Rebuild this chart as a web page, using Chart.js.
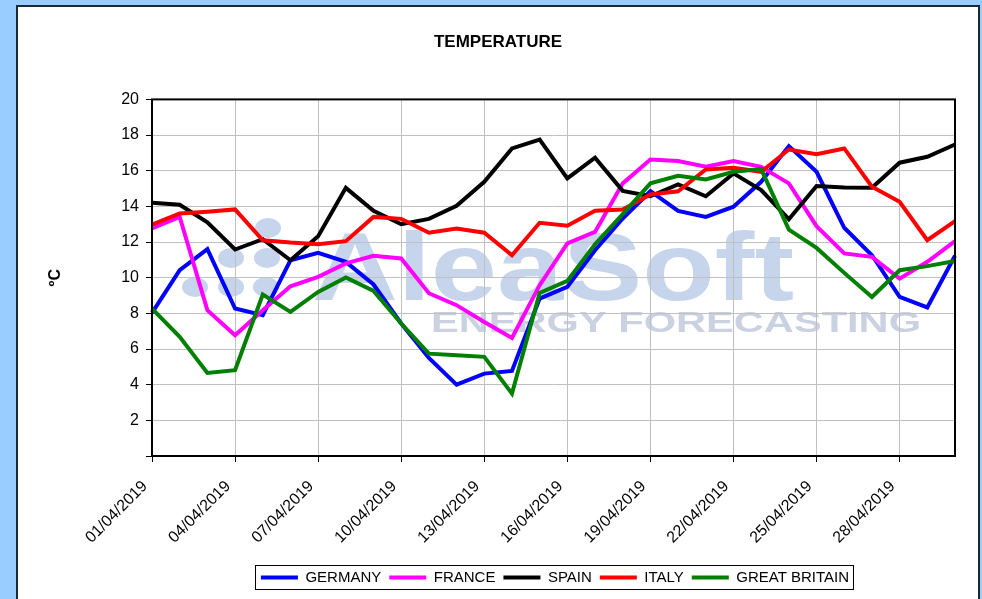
<!DOCTYPE html>
<html>
<head>
<meta charset="utf-8">
<title>Temperature</title>
<script src="https://cdn.jsdelivr.net/npm/chart.js@4.4.1/dist/chart.umd.min.js"></script>
<style>
  html, body { margin: 0; padding: 0; background: #99ccff; width: 982px; height: 599px; overflow: hidden; }
  #panel { position: absolute; left: 16px; top: 5px; width: 964px; height: 600px; box-sizing: border-box;
           border: 2px solid #1c2833; background: #fff; }
  #wrap { position: absolute; left: 0; top: 0; width: 960px; height: 592px; }
</style>
</head>
<body>
<div id="panel"><div id="wrap"><canvas id="grafico"></canvas></div></div>
<script>
var dias = [];
for (var d = 1; d <= 30; d++) {
  dias.push((d < 10 ? "0" + d : "" + d) + "/04/2019");
}

var paises = ["GERMANY", "FRANCE", "SPAIN", "ITALY", "GREAT BRITAIN"];
var cores = ["#0000ff", "#ff00ff", "#000000", "#ff0000", "#008000"];

var germany = [8.03, 10.42, 11.6, 8.27, 7.9, 10.98, 11.39, 10.89, 9.62, 7.43,
               5.5, 4.0, 4.62, 4.77, 8.83, 9.49, 11.54, 13.32, 14.85, 13.75,
               13.41, 13.98, 15.38, 17.38, 15.94, 12.8, 11.26, 8.92, 8.33, 11.23];
var france = [12.76, 13.41, 8.18, 6.77, 8.18, 9.52, 10.05, 10.8, 11.23, 11.08,
              9.13, 8.46, 7.52, 6.62, 9.58, 11.92, 12.57, 15.29, 16.63, 16.54,
              16.22, 16.54, 16.22, 15.29, 12.89, 11.36, 11.17, 9.95, 10.89, 12.05];
var spain = [14.2, 14.09, 13.1, 11.58, 12.16, 10.98, 12.33, 15.04, 13.75, 13.0,
             13.3, 14.03, 15.38, 17.25, 17.75, 15.57, 16.73, 14.87, 14.57, 15.23,
             14.57, 15.85, 14.91, 13.28, 15.14, 15.06, 15.04, 16.45, 16.78, 17.47];
var italy = [12.98, 13.6, 13.7, 13.83, 12.1, 11.97, 11.88, 12.05, 13.41, 13.3,
             12.52, 12.76, 12.52, 11.26, 13.08, 12.91, 13.75, 13.83, 14.67, 14.85,
             16.07, 16.16, 15.94, 17.19, 16.93, 17.25, 15.1, 14.26, 12.1, 13.17];
var britain = [8.27, 6.68, 4.66, 4.81, 9.06, 8.08, 9.2, 10.01, 9.26, 7.43,
               5.74, 5.65, 5.56, 3.5, 9.15, 9.82, 11.88, 13.56, 15.29, 15.72,
               15.51, 15.94, 16.09, 12.7, 11.67, 10.27, 8.92, 10.42, 10.65, 10.94];

var series = [germany, france, spain, italy, britain];

// logo de fundo (AleaSoft) desenhado antes da grelha
var marcaAgua = {
  id: 'marcaAgua',
  beforeDraw: function(chart) {
    var ctx = chart.ctx;
    ctx.save();
    ctx.fillStyle = "rgb(198,212,236)";
    var pontos = [[177, 280], [213, 280], [248, 280], [213, 251], [249, 251], [250, 221]];
    pontos.forEach(function(p) {
      ctx.beginPath();
      ctx.ellipse(p[0], p[1], 13, 10, 0, 0, Math.PI * 2);
      ctx.fill();
    });
    escreve(ctx, "AleaSoft", "bold 96px 'Liberation Sans', Arial, sans-serif", 294, 293, 482);
    ctx.fillStyle = "rgb(202,209,225)";
    escreve(ctx, "ENERGY FORECASTING", "bold 30px 'Liberation Sans', Arial, sans-serif", 413, 325, 490);
    ctx.restore();
  }
};

function escreve(ctx, txt, font, x, y, largura) {
  ctx.font = font;
  var w = ctx.measureText(txt).width;
  ctx.save();
  ctx.translate(x, y);
  ctx.scale(largura / w, 1);
  ctx.textBaseline = "alphabetic";
  ctx.fillText(txt, 0, 0);
  ctx.restore();
}

// legenda um pouco deslocada para a direita, como no original
var desvioLegenda = {
  id: 'desvioLegenda',
  afterLayout: function(chart) {
    var lg = chart.legend;
    lg.left += 57;
    lg.right += 57;
  }
};

// moldura da area do grafico e da legenda
var moldura = {
  id: 'moldura',
  afterDraw: function(chart) {
    var ctx = chart.ctx, a = chart.chartArea;
    ctx.save();
    ctx.strokeStyle = "#000";
    ctx.lineWidth = 2;
    ctx.strokeRect(a.left, a.top, a.right - a.left, a.bottom - a.top);
    var caixas = chart.legend.legendHitBoxes;
    if (caixas && caixas.length) {
      var l = caixas[0].left, r = 0, t = caixas[0].top, b = 0;
      caixas.forEach(function(c) {
        l = Math.min(l, c.left); r = Math.max(r, c.left + c.width);
        t = Math.min(t, c.top); b = Math.max(b, c.top + c.height);
      });
      ctx.lineWidth = 1;
      ctx.strokeRect(Math.round(l - 6) + 0.5, Math.round(t - 5) + 0.5, Math.round(r - l + 10), Math.round(b - t + 9));
    }
    ctx.restore();
  }
};

Chart.defaults.font.family = "'Liberation Sans', Arial, sans-serif";
Chart.defaults.font.size = 16;
Chart.defaults.color = "#000";

new Chart(document.getElementById("grafico"), {
  type: 'line',
  data: {
    labels: dias,
    datasets: series.map(function(s, i) {
      return {
        label: paises[i],
        data: s,
        borderColor: cores[i],
        backgroundColor: cores[i],
        borderWidth: 4,
        pointRadius: 0,
        tension: 0,
        fill: false,
        order: 5 - i
      };
    })
  },
  options: {
    responsive: true,
    maintainAspectRatio: false,
    animation: false,
    layout: { padding: { left: 23, right: 23, top: 0, bottom: 4 } },
    plugins: {
      title: {
        display: true,
        text: 'TEMPERATURE',
        font: { size: 17, weight: 'bold' },
        color: '#000',
        padding: { top: 25, bottom: 47 }
      },
      legend: {
        display: true,
        position: 'bottom',
        labels: {
          boxWidth: 37,
          boxHeight: 4,
          padding: 8,
          font: { size: 15 },
          sort: function(a, b) { return a.datasetIndex - b.datasetIndex; },
          generateLabels: function(chart) {
            var itens = Chart.defaults.plugins.legend.labels.generateLabels(chart);
            itens.forEach(function(it) { it.fillStyle = it.strokeStyle; it.lineWidth = 0; });
            return itens;
          }
        }
      },
      tooltip: { enabled: false }
    },
    scales: {
      x: {
        afterFit: function(scale) { scale.height = 106; scale.paddingRight = 0; },
        border: { display: false },
        grid: {
          color: function(c) { return c.index % 3 === 0 ? '#c0c0c0' : 'rgba(0,0,0,0)'; },
          tickColor: function(c) { return c.index % 3 === 0 ? '#000' : 'rgba(0,0,0,0)'; },
          tickLength: 6,
          lineWidth: 1
        },
        ticks: {
          autoSkip: false,
          minRotation: 45,
          maxRotation: 45,
          padding: 15,
          labelOffset: -7,
          font: { size: 16 },
          callback: function(v, i) { return i % 3 === 0 ? this.getLabelForValue(v) : ''; }
        }
      },
      y: {
        min: 0,
        max: 20,
        afterFit: function(scale) { scale.width = 111; },
        border: { display: false },
        grid: { color: '#c0c0c0', tickColor: '#000', tickLength: 6, lineWidth: 1 },
        ticks: {
          stepSize: 2,
          padding: 7,
          font: { size: 16 },
          callback: function(v) { return v === 0 ? '' : v; }
        },
        title: {
          display: true,
          text: 'ºC',
          font: { size: 16, weight: 'bold' },
          color: '#000',
          padding: { top: 5, bottom: 0 }
        }
      }
    }
  },
  plugins: [marcaAgua, desvioLegenda, moldura]
});
</script>
</body>
</html>
